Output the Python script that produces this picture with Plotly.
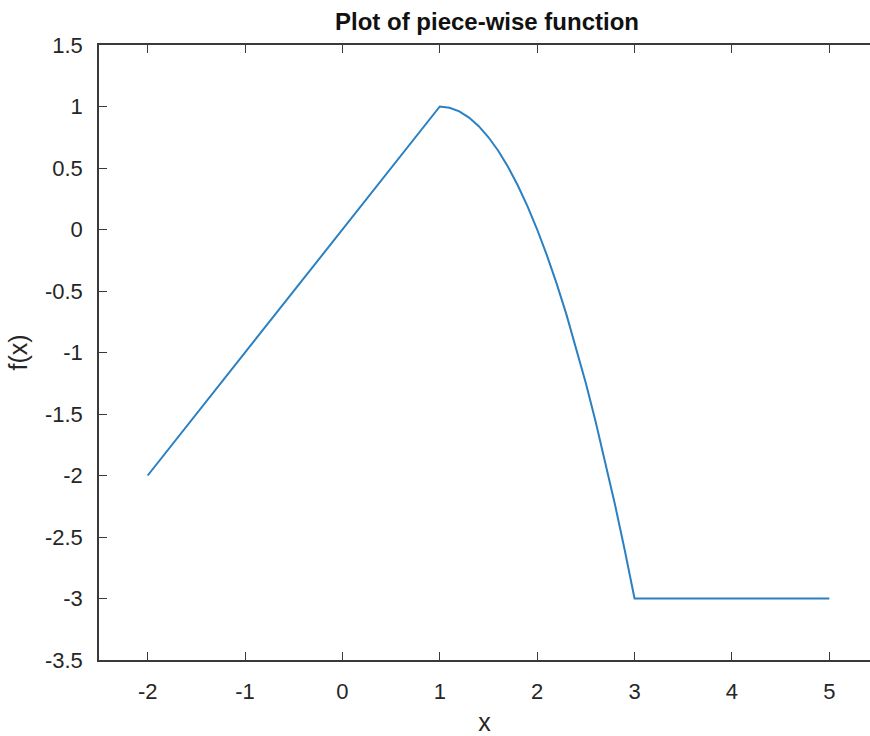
import plotly.graph_objects as go

# Piece 1: linear part
x_lin = [-2.0, -1.0, 0.0, 1.0]
y_lin = [-2.0, -1.0, 0.0, 1.0]

# Piece 2: curved part
x_curve = [1.0, 1.1, 1.2, 1.3, 1.4, 1.5, 1.6, 1.7, 1.8, 1.9, 2.0,
           2.1, 2.2, 2.3, 2.4, 2.5, 2.6, 2.7, 2.8, 2.9, 3.0]
y_curve = [1.0, 0.99, 0.96, 0.91, 0.84, 0.75, 0.64, 0.51, 0.36, 0.19, 0.0,
           -0.21, -0.44, -0.69, -0.96, -1.25, -1.56, -1.89, -2.24, -2.61, -3.0]

# Piece 3: constant part
x_const = [3.0, 4.0, 5.0]
y_const = [-3.0, -3.0, -3.0]

x_all = x_lin + x_curve[1:] + x_const[1:]
y_all = y_lin + y_curve[1:] + y_const[1:]

x_ticks = [-2, -1, 0, 1, 2, 3, 4, 5]
x_tick_labels = ["-2", "-1", "0", "1", "2", "3", "4", "5"]
y_ticks = [-3.5, -3, -2.5, -2, -1.5, -1, -0.5, 0, 0.5, 1, 1.5]
y_tick_labels = ["-3.5", "-3", "-2.5", "-2", "-1.5", "-1", "-0.5", "0", "0.5", "1", "1.5"]

axis_col = "#3a3a3a"
text_col = "#262626"
font_family = "Liberation Sans, Arial, sans-serif"

fig = go.Figure()
fig.add_trace(go.Scatter(
    x=x_all, y=y_all, mode="lines",
    line=dict(color="#2a80c2", width=2),
    showlegend=False,
))

fig.update_layout(
    width=870, height=736,
    margin=dict(l=99, r=0, t=45, b=76),
    paper_bgcolor="white", plot_bgcolor="white",
    font=dict(family=font_family, color=text_col),
    title=dict(
        text="<b>Plot of piece-wise function</b>",
        x=487 / 870, xref="container", xanchor="center",
        y=1 - 22 / 736, yref="container", yanchor="middle",
        font=dict(size=24, color="#111111", family=font_family),
    ),
    xaxis=dict(
        range=[-2.5, 5.418],
        tickmode="array", tickvals=x_ticks, ticktext=x_tick_labels,
        ticks="inside", ticklen=8, tickwidth=1.2, tickcolor=axis_col,
        showline=True, linecolor=axis_col, linewidth=1.5, mirror="ticks",
        showgrid=False, zeroline=False,
        tickfont=dict(size=22, color=text_col),
        ticklabelstandoff=11,
        title=dict(text="x", font=dict(size=25, color=text_col), standoff=12),
    ),
    yaxis=dict(
        range=[-3.5, 1.5],
        tickmode="array", tickvals=y_ticks, ticktext=y_tick_labels,
        ticks="inside", ticklen=8, tickwidth=1.2, tickcolor=axis_col,
        showline=True, linecolor=axis_col, linewidth=1.5, mirror=False,
        showgrid=False, zeroline=False,
        tickfont=dict(size=22, color=text_col),
        ticklabelstandoff=10,
        title=dict(text="f(x)", font=dict(size=25, color=text_col), standoff=10),
    ),
)

fig.write_html("out.html")
